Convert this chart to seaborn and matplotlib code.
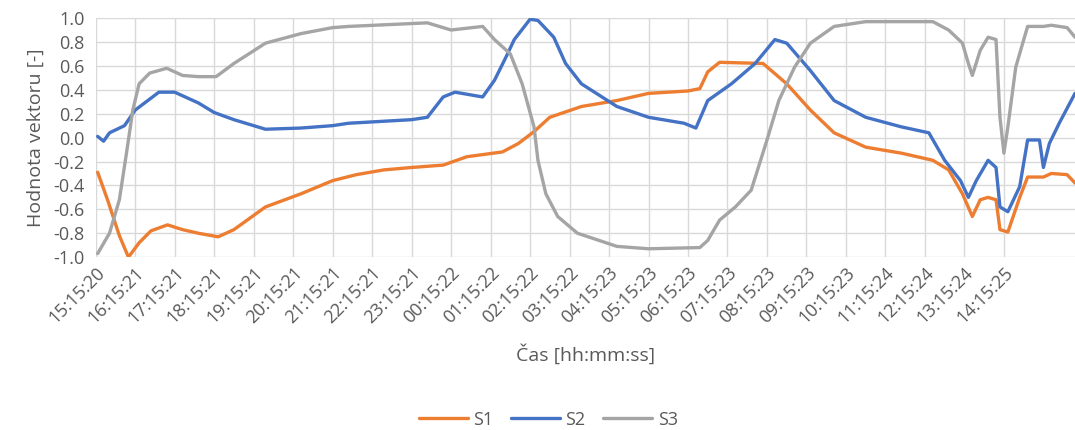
import pandas as pd
import seaborn as sns
import matplotlib.pyplot as plt

# hours since start (15:15:20) and vector values
S1_X = [0.05, 0.3, 0.6, 0.83, 1.1, 1.4, 1.82, 2.2, 2.6, 3.1, 3.5, 4.3, 5.2, 6.0, 6.6, 7.3, 8.0,
        8.8, 9.4, 10.3, 10.7, 11.1, 11.5, 12.3, 13.2, 14.0, 15.0, 15.3, 15.5, 15.8, 16.9, 17.5,
        18.1, 18.7, 19.5, 20.4, 21.2, 21.6, 21.95, 22.2, 22.4, 22.6, 22.8, 22.9, 23.1, 23.4,
        23.6, 24.0, 24.2, 24.6, 24.8]
S1_Y = [-0.29, -0.52, -0.82, -1.0, -0.88, -0.78, -0.73, -0.77, -0.80, -0.83, -0.77, -0.58,
        -0.47, -0.36, -0.31, -0.27, -0.25, -0.23, -0.16, -0.12, -0.05, 0.05, 0.17, 0.26, 0.31,
        0.37, 0.39, 0.41, 0.55, 0.63, 0.62, 0.45, 0.23, 0.04, -0.08, -0.13, -0.19, -0.27,
        -0.47, -0.66, -0.52, -0.50, -0.52, -0.77, -0.79, -0.50, -0.33, -0.33, -0.30, -0.31, -0.38]

S2_X = [0.05, 0.2, 0.35, 0.73, 1.0, 1.6, 2.0, 2.6, 3.0, 3.5, 4.3, 5.2, 6.0, 6.4, 8.0, 8.4, 8.8,
        9.1, 9.8, 10.1, 10.4, 10.6, 11.0, 11.2, 11.6, 11.9, 12.3, 13.2, 14.0, 14.9, 15.2,
        15.5, 16.1, 16.7, 17.2, 17.5, 18.1, 18.7, 19.5, 20.4, 21.1, 21.5, 21.9, 22.1, 22.3,
        22.6, 22.8, 22.9, 23.1, 23.4, 23.6, 23.9, 24.0, 24.15, 24.4, 24.8]
S2_Y = [0.01, -0.03, 0.04, 0.10, 0.23, 0.38, 0.38, 0.29, 0.21, 0.15, 0.07, 0.08, 0.10, 0.12, 0.15,
        0.17, 0.34, 0.38, 0.34, 0.48, 0.68, 0.82, 0.99, 0.98, 0.84, 0.62, 0.45, 0.26, 0.17,
        0.12, 0.08, 0.31, 0.45, 0.62, 0.82, 0.79, 0.56, 0.31, 0.17, 0.09, 0.04, -0.19, -0.36,
        -0.50, -0.36, -0.19, -0.25, -0.58, -0.62, -0.41, -0.02, -0.02, -0.25, -0.05, 0.12, 0.37]

S3_X = [0.05, 0.35, 0.6, 0.78, 0.94, 1.1, 1.37, 1.8, 2.2, 2.6, 3.05, 3.5, 4.3, 5.2, 6.0, 6.4,
        8.4, 9.0, 9.8, 10.1, 10.5, 10.8, 11.1, 11.2, 11.4, 11.7, 12.2, 13.2, 14.0, 15.3, 15.5,
        15.8, 16.2, 16.6, 17.0, 17.3, 17.7, 18.1, 18.7, 19.5, 21.2, 21.6, 21.95, 22.1, 22.2,
        22.4, 22.6, 22.8, 22.9, 23.0, 23.1, 23.3, 23.6, 24.0, 24.2, 24.6, 24.8]
S3_Y = [-0.97, -0.80, -0.52, -0.13, 0.23, 0.45, 0.54, 0.58, 0.52, 0.51, 0.51, 0.62, 0.79,
        0.87, 0.92, 0.93, 0.96, 0.90, 0.93, 0.82, 0.70, 0.45, 0.09, -0.19, -0.47, -0.66, -0.80,
        -0.91, -0.93, -0.92, -0.86, -0.69, -0.58, -0.44, -0.02, 0.31, 0.59, 0.79, 0.93, 0.97,
        0.97, 0.90, 0.79, 0.62, 0.52, 0.73, 0.84, 0.82, 0.17, -0.13, 0.09, 0.59, 0.93, 0.93,
        0.94, 0.92, 0.84]

TICK_LABELS = ['15:15:20', '16:15:21', '17:15:21', '18:15:21', '19:15:21', '20:15:21',
               '21:15:21', '22:15:21', '23:15:21', '00:15:22', '01:15:22', '02:15:22',
               '03:15:22', '04:15:23', '05:15:23', '06:15:23', '07:15:23', '08:15:23',
               '09:15:23', '10:15:23', '11:15:24', '12:15:24', '13:15:24', '14:15:25']

COLORS = {'S1': '#ED7D31', 'S2': '#4472C4', 'S3': '#A5A5A5'}
TEXT = '#595959'

df = pd.concat([
    pd.DataFrame({'t': S1_X, 'v': S1_Y, 'serie': 'S1'}),
    pd.DataFrame({'t': S2_X, 'v': S2_Y, 'serie': 'S2'}),
    pd.DataFrame({'t': S3_X, 'v': S3_Y, 'serie': 'S3'}),
])

sns.set_style('white')
plt.rcParams['font.family'] = ['Open Sans', 'DejaVu Sans']

fig = plt.figure(figsize=(10.75, 4.3), dpi=100)
ax = fig.add_axes([0.089, 0.402, 0.911, 0.556])

sns.lineplot(data=df, x='t', y='v', hue='serie', palette=COLORS, linewidth=2.4,
             sort=False, ax=ax)

ax.set_xlim(0, 24.8)
ax.set_ylim(-1.0, 1.0)
ax.set_xticks(range(len(TICK_LABELS)))
ax.set_xticklabels(TICK_LABELS, rotation=45, ha='right', rotation_mode='anchor')
ax.set_yticks([i / 10 for i in range(-10, 11, 2)])
ax.set_yticklabels(['%.1f' % (i / 10) for i in range(-10, 11, 2)])
ax.tick_params(axis='both', length=0, labelsize=13, colors=TEXT)
ax.tick_params(axis='y', pad=8)
ax.tick_params(axis='x', pad=5)
ax.grid(True, color='#D9D9D9', linewidth=1)
for s in ax.spines.values():
    s.set_visible(False)

ax.set_xlabel('Čas [hh:mm:ss]', fontsize=14, color=TEXT, labelpad=12)
ax.set_ylabel('Hodnota vektoru [-]', fontsize=14, color=TEXT, labelpad=6)

handles, labels = ax.get_legend_handles_labels()
ax.legend_.remove()
fig.legend(handles, labels, loc='lower center', bbox_to_anchor=(0.51, -0.035), ncol=3,
           frameon=False, fontsize=13, labelcolor=TEXT, handlelength=2.7, columnspacing=1.0,
           handletextpad=0.3)

fig.savefig('out.png', dpi=100)
